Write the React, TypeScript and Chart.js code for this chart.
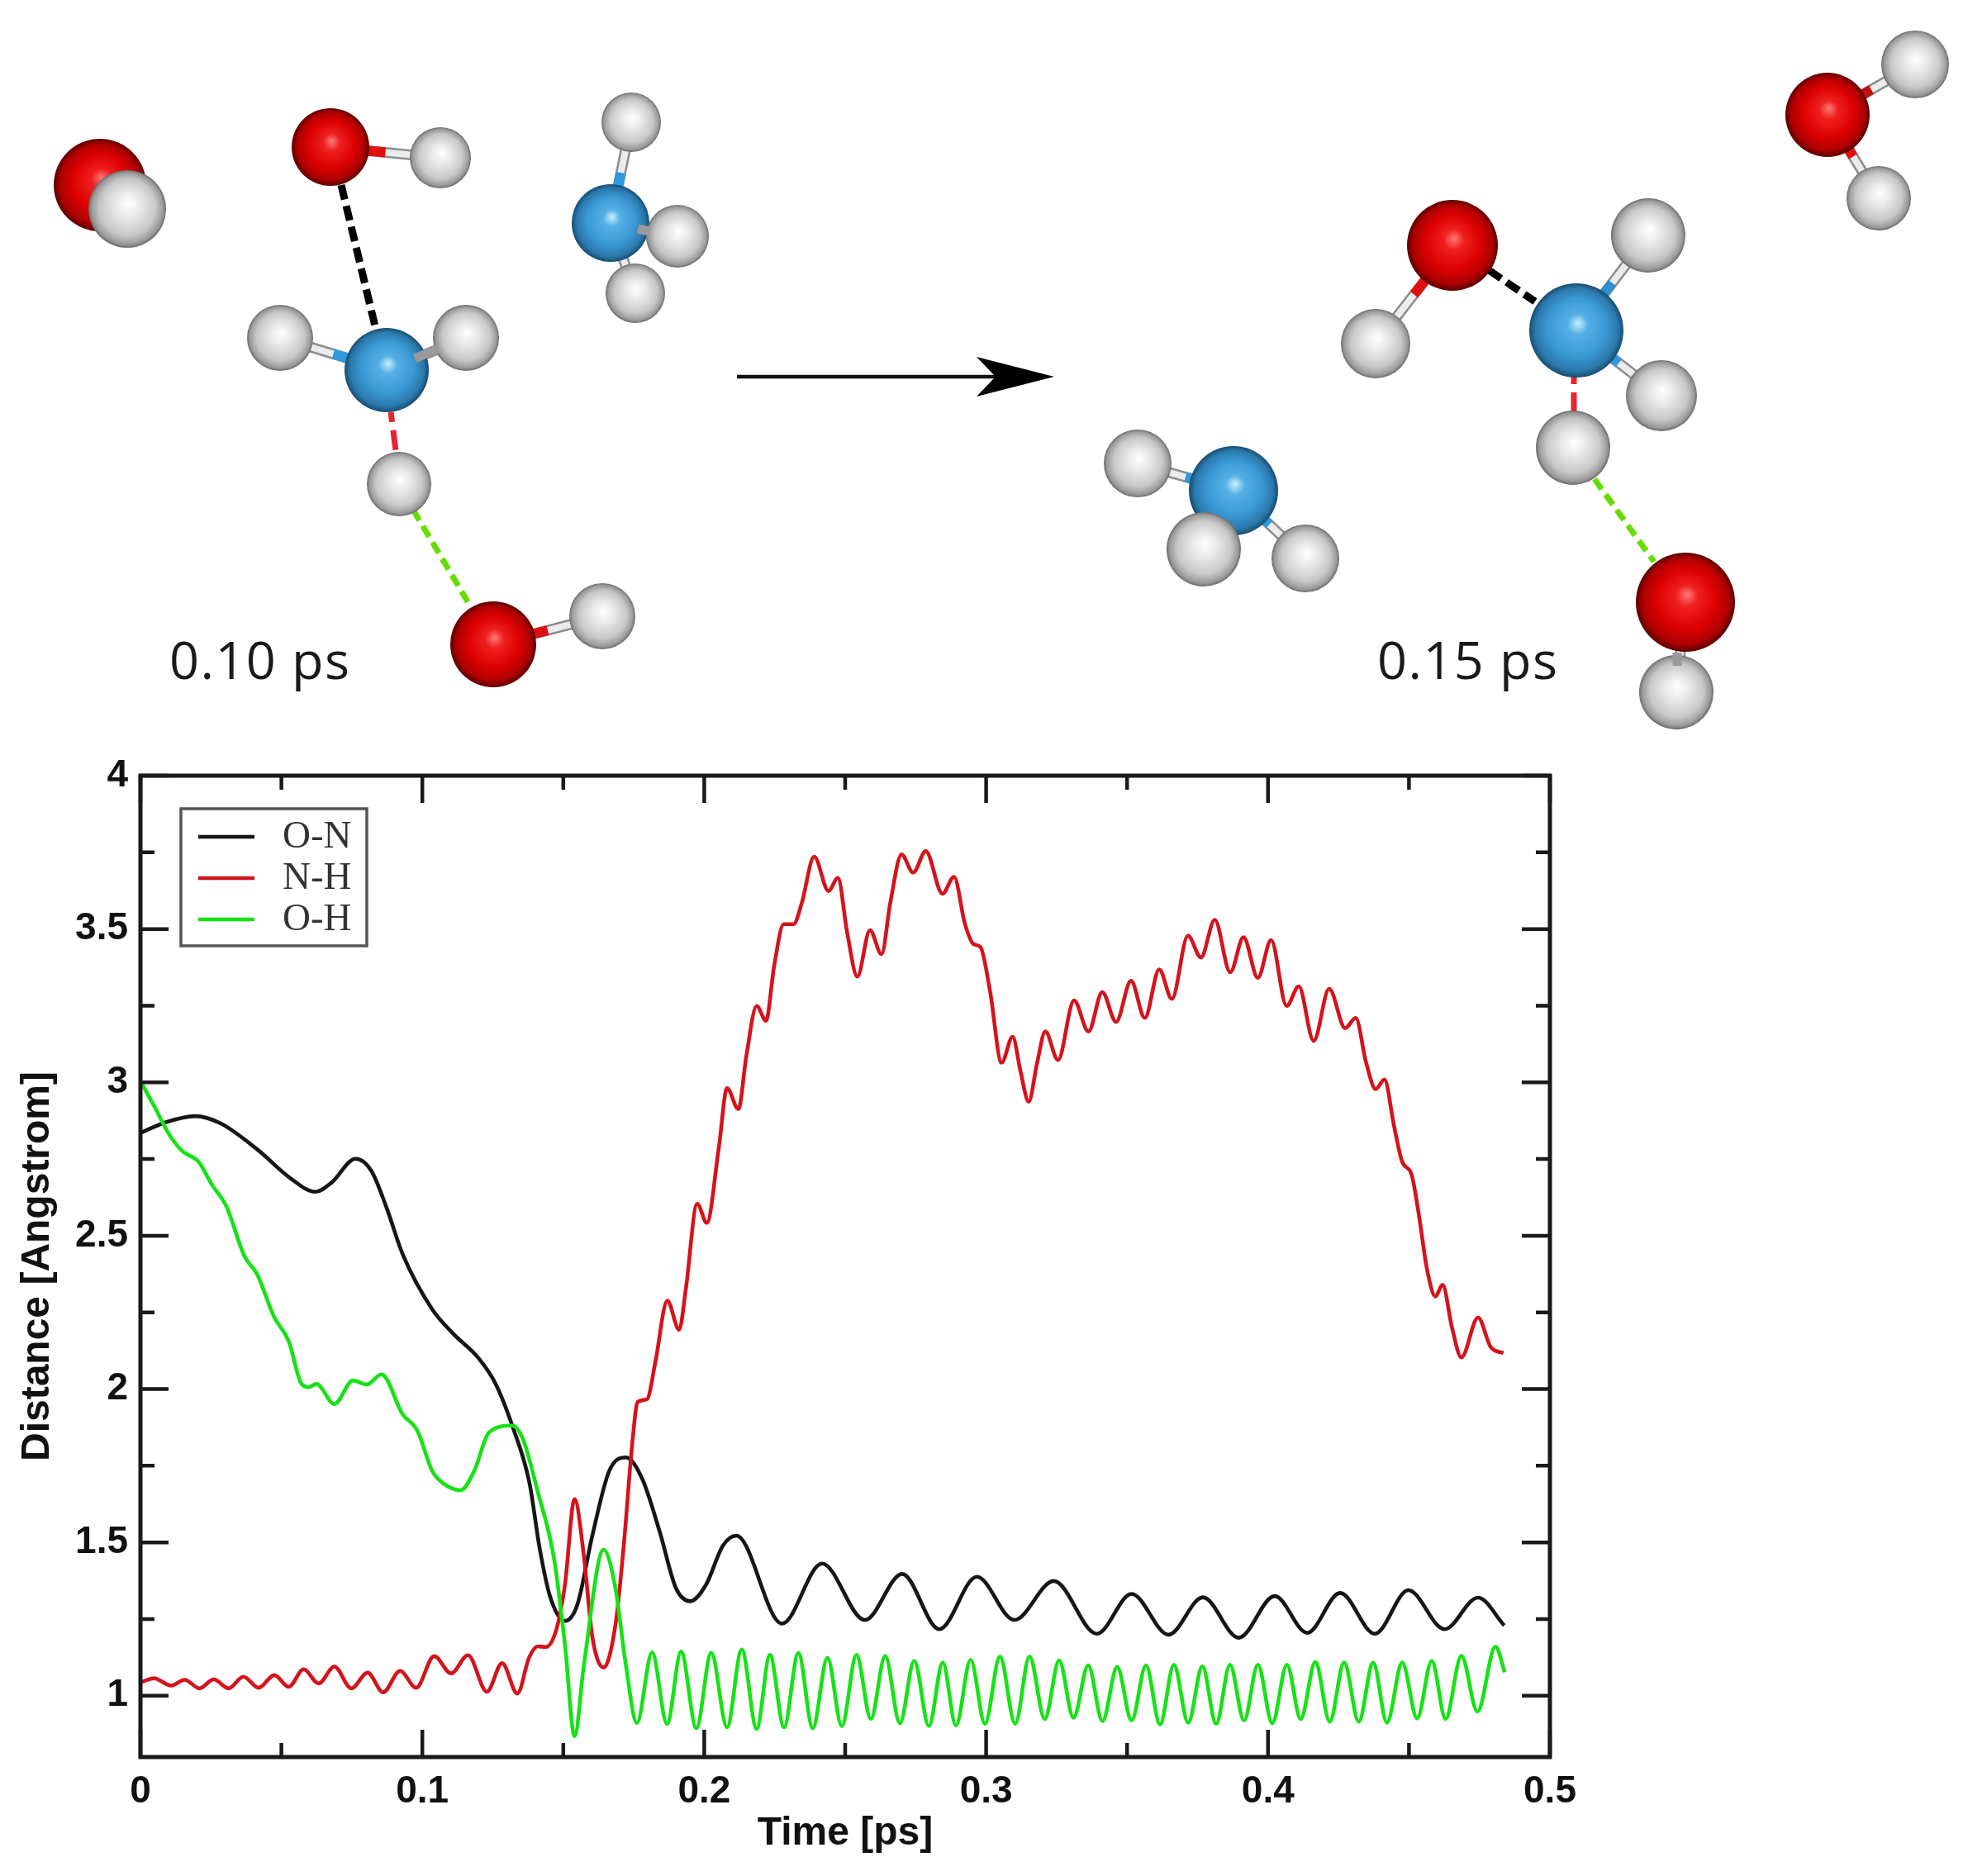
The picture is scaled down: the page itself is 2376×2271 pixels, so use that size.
import React, { useEffect, useRef } from "react";
import { Chart, registerables } from "chart.js";

Chart.register(...registerables);

// ---------- chart data ----------
const onTimes = [0, 0.009, 0.0194, 0.0285, 0.0416, 0.0534, 0.062, 0.0678, 0.0763, 0.082, 0.0874, 0.093, 0.1035, 0.111, 0.12, 0.126, 0.132, 0.138, 0.1416, 0.1453, 0.1506, 0.155, 0.1603, 0.1663, 0.1722, 0.178, 0.1842, 0.19, 0.195, 0.2007, 0.2066, 0.2114, 0.2276, 0.2418, 0.257, 0.2702, 0.2834, 0.2967, 0.31, 0.324, 0.3393, 0.3516, 0.3647, 0.3769, 0.3896, 0.4024, 0.4139, 0.4256, 0.4379, 0.4498, 0.4626, 0.4745, 0.4838];
const onValues = [2.835, 2.87, 2.89, 2.866, 2.78, 2.686, 2.643, 2.673, 2.751, 2.71, 2.589, 2.44, 2.26, 2.18, 2.1, 2.017, 1.878, 1.694, 1.482, 1.324, 1.244, 1.297, 1.522, 1.733, 1.777, 1.707, 1.535, 1.35, 1.308, 1.363, 1.489, 1.522, 1.235, 1.431, 1.247, 1.397, 1.217, 1.388, 1.247, 1.374, 1.202, 1.332, 1.199, 1.321, 1.189, 1.325, 1.205, 1.335, 1.202, 1.344, 1.217, 1.32, 1.229];

const nhTimes = [0.0003, 0.0048, 0.0108, 0.0157, 0.0209, 0.026, 0.0313, 0.0365, 0.0419, 0.0475, 0.0526, 0.0579, 0.0632, 0.0688, 0.0748, 0.0806, 0.0861, 0.0921, 0.0978, 0.1042, 0.1102, 0.1162, 0.1229, 0.1283, 0.1337, 0.1379, 0.1409, 0.1438, 0.1476, 0.1506, 0.154, 0.1573, 0.1603, 0.1643, 0.1685, 0.1715, 0.1745, 0.1764, 0.1797, 0.1827, 0.1869, 0.1911, 0.1935, 0.1975, 0.2009, 0.2052, 0.2081, 0.2121, 0.215, 0.2186, 0.2219, 0.2248, 0.2282, 0.2317, 0.2346, 0.239, 0.2441, 0.2474, 0.2507, 0.2543, 0.2588, 0.2629, 0.266, 0.27, 0.2741, 0.2786, 0.2845, 0.2886, 0.2925, 0.2955, 0.298, 0.3014, 0.3055, 0.3094, 0.3122, 0.3151, 0.3181, 0.321, 0.3255, 0.3312, 0.3363, 0.3412, 0.3461, 0.3514, 0.3563, 0.3614, 0.3659, 0.3716, 0.3762, 0.3811, 0.3866, 0.3913, 0.3964, 0.4011, 0.4066, 0.4109, 0.4162, 0.4217, 0.4274, 0.4311, 0.4348, 0.4382, 0.4413, 0.4447, 0.4476, 0.4509, 0.4535, 0.4564, 0.4594, 0.4619, 0.4653, 0.4686, 0.4745, 0.479, 0.4835];
const nhValues = [1.044, 1.057, 1.033, 1.052, 1.024, 1.053, 1.024, 1.062, 1.026, 1.067, 1.029, 1.086, 1.04, 1.095, 1.024, 1.075, 1.011, 1.081, 1.026, 1.129, 1.073, 1.132, 1.013, 1.106, 1.007, 1.125, 1.161, 1.159, 1.218, 1.363, 1.641, 1.456, 1.192, 1.092, 1.231, 1.495, 1.826, 1.958, 1.967, 2.09, 2.288, 2.193, 2.328, 2.604, 2.542, 2.789, 2.981, 2.913, 3.09, 3.249, 3.201, 3.379, 3.516, 3.516, 3.585, 3.736, 3.624, 3.667, 3.489, 3.345, 3.496, 3.418, 3.585, 3.743, 3.684, 3.754, 3.615, 3.67, 3.516, 3.451, 3.441, 3.297, 3.064, 3.149, 3.036, 2.937, 3.064, 3.166, 3.073, 3.267, 3.166, 3.294, 3.197, 3.331, 3.21, 3.368, 3.272, 3.478, 3.407, 3.53, 3.359, 3.473, 3.341, 3.464, 3.249, 3.313, 3.135, 3.305, 3.177, 3.21, 3.064, 2.978, 3.009, 2.858, 2.741, 2.7, 2.569, 2.391, 2.302, 2.34, 2.199, 2.103, 2.233, 2.137, 2.117];

const ohTimes = [0, 0.005, 0.0102, 0.0148, 0.0207, 0.0253, 0.0305, 0.0369, 0.0414, 0.0474, 0.0526, 0.0571, 0.0597, 0.0624, 0.0688, 0.0754, 0.0803, 0.0855, 0.093, 0.0982, 0.1035, 0.1072, 0.1136, 0.1184, 0.1237, 0.1319, 0.1356, 0.1409, 0.1468, 0.1506, 0.154, 0.1573, 0.1643, 0.1685, 0.1722, 0.1761, 0.1815, 0.1868, 0.1918, 0.1972, 0.2025, 0.2081, 0.2133, 0.2186, 0.2233, 0.2283, 0.2334, 0.2385, 0.2437, 0.2488, 0.254, 0.2591, 0.2642, 0.2694, 0.2745, 0.2797, 0.2846, 0.2893, 0.2945, 0.2996, 0.3049, 0.3103, 0.3154, 0.3208, 0.3259, 0.331, 0.3362, 0.3413, 0.3465, 0.3516, 0.3567, 0.3617, 0.3666, 0.3717, 0.3767, 0.3816, 0.3865, 0.3915, 0.3964, 0.4015, 0.4067, 0.4116, 0.4168, 0.4219, 0.427, 0.4322, 0.4373, 0.4422, 0.4476, 0.4529, 0.4581, 0.463, 0.4686, 0.4743, 0.4807, 0.484];
const ohValues = [3.004, 2.92, 2.83, 2.776, 2.74, 2.667, 2.595, 2.433, 2.374, 2.235, 2.156, 2.017, 2.006, 2.017, 1.951, 2.028, 2.015, 2.048, 1.918, 1.865, 1.733, 1.694, 1.67, 1.733, 1.859, 1.881, 1.839, 1.667, 1.443, 1.165, 0.868, 1.099, 1.476, 1.35, 1.099, 0.911, 1.141, 0.908, 1.144, 0.894, 1.14, 0.897, 1.151, 0.892, 1.133, 0.897, 1.139, 0.894, 1.124, 0.901, 1.133, 0.924, 1.13, 0.91, 1.114, 0.901, 1.108, 0.903, 1.117, 0.908, 1.128, 0.908, 1.128, 0.924, 1.115, 0.928, 1.099, 0.917, 1.094, 0.919, 1.099, 0.906, 1.101, 0.912, 1.096, 0.908, 1.101, 0.919, 1.101, 0.91, 1.101, 0.924, 1.11, 0.915, 1.108, 0.915, 1.108, 0.912, 1.108, 0.926, 1.114, 0.924, 1.13, 0.948, 1.16, 1.076];

const seriesNames = ["O-N", "N-H", "O-H"];
const xMajorTicks = [0, 0.1, 0.2, 0.3, 0.4, 0.5];
const xMinorTicks = [0.05, 0.15, 0.25, 0.35, 0.45];
const yMajorTicks = [1, 1.5, 2, 2.5, 3, 3.5, 4];
const yMinorTicks = [1.25, 1.75, 2.25, 2.75, 3.25, 3.75];
const xTitle = "Time [ps]";
const yTitle = "Distance [Angstrom]";
const frameLabels = ["0.10 ps", "0.15 ps"];

// ---------- styles ----------
const BLACK = "#161616";
const RED = "#d4141c";
const GREEN = "#16e216";
const AXIS = "#1a1a1a";
const zip = (t: number[], v: number[]) => t.map((x, i) => ({ x, y: v[i] }));

const framePlugin = {
  id: "graceFrame",
  afterDatasetsDraw(chart: any) {
    const { ctx, chartArea: a, scales } = chart;
    ctx.save();
    ctx.strokeStyle = AXIS;
    ctx.lineWidth = 4.5;
    ctx.lineCap = "butt";
    const ticks = (vals: number[], len: number, horizontal: boolean) => {
      vals.forEach((v) => {
        ctx.beginPath();
        if (horizontal) {
          const x = scales.x.getPixelForValue(v);
          ctx.moveTo(x, a.bottom);
          ctx.lineTo(x, a.bottom - len);
          ctx.moveTo(x, a.top);
          ctx.lineTo(x, a.top + len);
        } else {
          const y = scales.y.getPixelForValue(v);
          ctx.moveTo(a.left, y);
          ctx.lineTo(a.left + len, y);
          ctx.moveTo(a.right, y);
          ctx.lineTo(a.right - len, y);
        }
        ctx.stroke();
      });
    };
    ticks(xMajorTicks, 33, true);
    ticks(xMinorTicks, 17, true);
    ticks(yMajorTicks, 34, false);
    ticks(yMinorTicks, 17, false);
    ctx.lineWidth = 5;
    ctx.strokeRect(a.left, a.top, a.right - a.left, a.bottom - a.top);

    // legend, inside the plot
    const bx = 219, by = 979, bw = 225, bh = 166;
    ctx.fillStyle = "#fff";
    ctx.fillRect(bx, by, bw, bh);
    ctx.strokeStyle = "#555";
    ctx.lineWidth = 3.5;
    ctx.strokeRect(bx, by, bw, bh);
    ctx.font = '47px "Liberation Serif"';
    ctx.textBaseline = "middle";
    ctx.textAlign = "left";
    chart.data.datasets.forEach((d: any, i: number) => {
      const y = 1013 + i * 50;
      ctx.strokeStyle = d.borderColor;
      ctx.lineWidth = 4.5;
      ctx.beginPath();
      ctx.moveTo(240, y);
      ctx.lineTo(308, y);
      ctx.stroke();
      ctx.fillStyle = "#333";
      ctx.fillText(d.label, 342, y + 1);
    });
    ctx.restore();
  },
};

function ChartCanvas() {
  const ref = useRef<HTMLCanvasElement>(null);
  useEffect(() => {
    const tickFont = { family: '"Liberation Sans"', size: 46, weight: "bold" as const };
    const titleFont = { family: '"Liberation Sans"', size: 48, weight: "bold" as const };
    const chart = new Chart(ref.current!, {
      type: "line",
      data: {
        datasets: [
          { label: seriesNames[0], data: zip(onTimes, onValues), borderColor: BLACK, order: 2 },
          { label: seriesNames[1], data: zip(nhTimes, nhValues), borderColor: RED, order: 1 },
          { label: seriesNames[2], data: zip(ohTimes, ohValues), borderColor: GREEN, order: 0 },
        ].map((d) => ({ ...d, borderWidth: 4.6, pointRadius: 0, cubicInterpolationMode: "monotone" as const, fill: false })),
      },
      options: {
        responsive: false,
        animation: false,
        devicePixelRatio: 1,
        layout: { padding: { left: 0, top: 939, right: 500, bottom: 0 } },
        plugins: { legend: { display: false }, tooltip: { enabled: false } },
        scales: {
          x: {
            type: "linear",
            min: 0,
            max: 0.5,
            afterBuildTicks: (s: any) => { s.ticks = xMajorTicks.map((value) => ({ value })); },
            afterFit: (s: any) => { s.height = 144; },
            grid: { display: false, drawTicks: false },
            border: { display: false },
            ticks: { autoSkip: false, maxRotation: 0, padding: 15, color: "#111", font: tickFont, callback: (v: any) => String(v) },
            title: { display: true, text: xTitle, color: "#111", font: titleFont, padding: { top: 0, bottom: 22 } },
          },
          y: {
            type: "linear",
            min: 0.8,
            max: 4,
            afterBuildTicks: (s: any) => { s.ticks = yMajorTicks.map((value) => ({ value })); },
            afterFit: (s: any) => { s.width = 170; },
            grid: { display: false, drawTicks: false },
            border: { display: false },
            ticks: { autoSkip: false, padding: 15, color: "#111", font: tickFont, callback: (v: any) => String(v) },
            title: { display: true, text: yTitle, color: "#111", font: titleFont, padding: { top: 17, bottom: 0 } },
          },
        },
      },
      plugins: [framePlugin],
    });
    return () => chart.destroy();
  }, []);
  return (
    <canvas
      ref={ref}
      width={2376}
      height={2271}
      style={{ position: "absolute", left: 0, top: 0, width: 2376, height: 2271, display: "block" }}
    />
  );
}

// ---------- molecule illustration above the chart ----------
type Atom = [string, number, number, number];
const atoms: Atom[] = [
  ["o", 121, 224, 56], ["h", 154, 253, 47],
  ["o", 400, 178, 47], ["h", 533, 191, 37],
  ["n", 468, 448, 51], ["h", 339, 409, 40], ["h", 564, 409, 40], ["h", 483, 586, 39],
  ["o", 597, 780, 52], ["h", 729, 746, 40],
  ["h", 764, 148, 36], ["h", 769, 355, 36], ["n", 739, 270, 47], ["h", 820, 286, 38],
  ["o", 2212, 139, 51], ["h", 2318, 78, 41], ["h", 2274, 240, 39],
  ["o", 1758, 297, 55], ["h", 1665, 416, 42],
  ["n", 1908, 400, 57], ["h", 1995, 285, 45], ["h", 2011, 479, 43], ["h", 1904, 542, 45],
  ["o", 2040, 729, 60], ["h", 2029, 838, 45],
  ["h", 1377, 561, 41], ["n", 1493, 594, 54], ["h", 1457, 665, 45], ["h", 1580, 676, 41],
];
// heavy atom x,y → hydrogen x,y, colour of the half at the heavy atom
type Bond = [number, number, number, number, string];
const bonds: Bond[] = [
  [400, 178, 533, 191, "#e01010"],
  [468, 448, 339, 409, "#2f9ae0"],
  [468, 448, 564, 409, "#777777"],
  [597, 780, 729, 746, "#e01010"],
  [739, 270, 764, 148, "#2f9ae0"],
  [739, 270, 820, 286, "#777777"],
  [739, 270, 769, 355, "#777777"],
  [2212, 139, 2318, 78, "#c01010"],
  [2212, 139, 2274, 240, "#e01010"],
  [1758, 297, 1665, 416, "#e01010"],
  [1908, 400, 1995, 285, "#2f8fd0"],
  [1908, 400, 2011, 479, "#2f9ae0"],
  [2040, 729, 2029, 838, "#999999"],
  [1493, 594, 1377, 561, "#2f9ae0"],
  [1493, 594, 1580, 676, "#2f9ae0"],
];
// short bond stubs that sit in front of the spheres
const stubs: [number, number, number, number][] = [
  [502, 434, 530, 422],
  [772, 277, 786, 280],
  [2030, 790, 2030, 806],
];
type Dash = [number, number, number, number, string, number, string];
const dashes: Dash[] = [
  [413, 224, 455, 399, "#000", 9, "18 8"],
  [473, 499, 479, 545, "#e8242c", 7, "12 10 24"],
  [500, 617, 570, 735, "#66dd00", 7, "15 8"],
  [1802, 327, 1858, 365, "#000", 9, "18 8"],
  [1905, 453, 1905, 499, "#e8242c", 7, "12 10 24"],
  [1930, 580, 2002, 680, "#66dd00", 7, "15 8"],
];

function Grad({ id, stops }: { id: string; stops: [number, string][] }) {
  return (
    <radialGradient id={id} cx="0.5" cy="0.5" r="0.5" fx="0.52" fy="0.42">
      {stops.map(([o, c]) => (
        <stop key={o} offset={o} stopColor={c} />
      ))}
    </radialGradient>
  );
}

function Molecules() {
  return (
    <svg
      width={2376}
      height={900}
      viewBox="0 0 2376 900"
      style={{ position: "absolute", left: 0, top: 0, display: "block" }}
    >
      <defs>
        <Grad id="o" stops={[[0, "#ff7a7a"], [0.22, "#f02020"], [0.6, "#dc0000"], [0.86, "#b00000"], [1, "#5c0000"]]} />
        <Grad id="n" stops={[[0, "#c8f0ff"], [0.22, "#55b0e6"], [0.62, "#3a98d2"], [0.88, "#2a78ab"], [1, "#174c70"]]} />
        <Grad id="h" stops={[[0, "#ffffff"], [0.3, "#ebebeb"], [0.72, "#c8c8c8"], [0.92, "#9a9a9a"], [1, "#6a6a6a"]]} />
      </defs>
      {bonds.map(([x1, y1, x2, y2, c], i) => {
        const mx = (x1 + x2) / 2;
        const my = (y1 + y2) / 2;
        return (
          <g key={i} strokeLinecap="butt">
            <line x1={x1} y1={y1} x2={x2} y2={y2} stroke="#8c8c8c" strokeWidth={13} />
            <line x1={x1} y1={y1} x2={x2} y2={y2} stroke="#ececec" strokeWidth={8} />
            <line x1={x1} y1={y1} x2={mx} y2={my} stroke={c} strokeWidth={12} />
          </g>
        );
      })}
      {dashes.map(([x1, y1, x2, y2, c, w, d], i) => (
        <line key={i} x1={x1} y1={y1} x2={x2} y2={y2} stroke={c} strokeWidth={w} strokeDasharray={d} strokeLinecap="butt" />
      ))}
      {atoms.map(([k, cx, cy, r], i) => (
        <circle key={i} cx={cx} cy={cy} r={r} fill={`url(#${k})`} />
      ))}
      {stubs.map(([x1, y1, x2, y2], i) => (
        <line key={i} x1={x1} y1={y1} x2={x2} y2={y2} stroke="#9a9a9a" strokeWidth={11} />
      ))}
      <line x1={892} y1={456} x2={1210} y2={456} stroke="#111" strokeWidth={4.5} />
      <polygon points="1276,456 1182,432 1205,456 1182,480" fill="#000" />
      <g fontFamily='"Open Sans"' fontSize={63} fill="#1a1a1a">
        <text x={205} y={822} textLength={218} lengthAdjust="spacing">{frameLabels[0]}</text>
        <text x={1667} y={822} textLength={218} lengthAdjust="spacing">{frameLabels[1]}</text>
      </g>
    </svg>
  );
}

export default function App() {
  useEffect(() => {
    document.body.style.margin = "0";
    document.body.style.background = "#fff";
  }, []);
  return (
    <div style={{ position: "relative", width: 2376, height: 2271, overflow: "hidden", background: "#fff" }}>
      <ChartCanvas />
      <Molecules />
    </div>
  );
}
